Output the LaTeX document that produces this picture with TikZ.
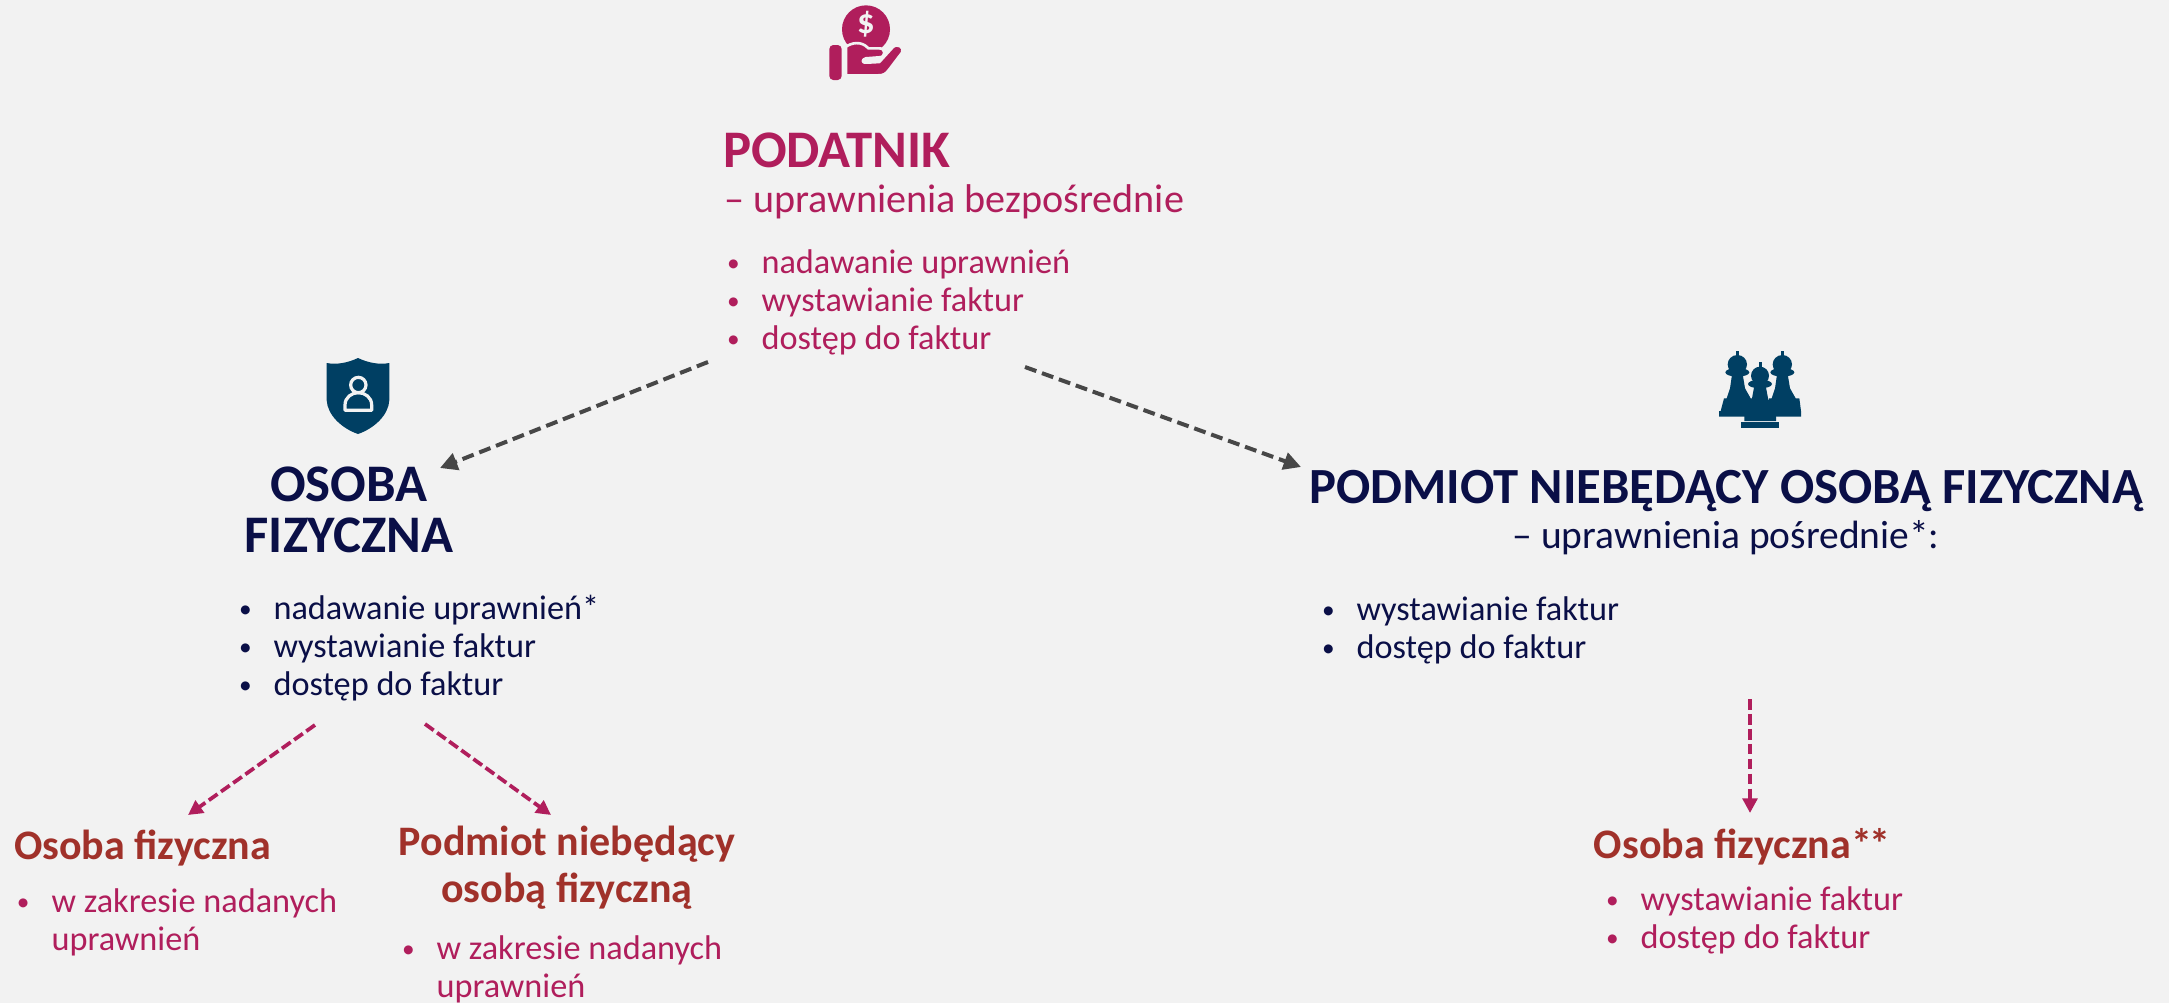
\documentclass[tikz,border=0pt]{standalone}
\usepackage{fontspec}
\setmainfont{Carlito}
\usetikzlibrary{arrows.meta}
\definecolor{bgc}{HTML}{F2F2F2}
\definecolor{mag}{HTML}{B01E5C}
\definecolor{navyt}{HTML}{0A0F47}
\definecolor{brick}{HTML}{A0312A}
\definecolor{teal}{HTML}{003F63}
\definecolor{arrgray}{HTML}{474747}
\newcommand{\bl}{\makebox[27.4pt][l]{\hspace{1.5pt}\raisebox{1pt}{\fontsize{19}{19}\selectfont •}}}
\newcommand{\nb}{\makebox[27.4pt][l]{}}
\tikzset{
  txt/.style={inner sep=0pt,outer sep=0pt,anchor=base west,align=left},
  body/.style={txt,font=\fontsize{25.7}{28.5}\selectfont},
  sub/.style={txt,font=\fontsize{30.1}{30}\selectfont},
  subn/.style={txt,font=\fontsize{29.6}{30}\selectfont},
  head/.style={txt,font=\fontsize{39.6}{38}\selectfont\bfseries},
  headwide/.style={txt,font=\fontsize{38}{38}\selectfont\bfseries},
  minor/.style={txt,font=\fontsize{31.5}{35}\selectfont\bfseries,text=brick},
  grayarrow/.style={draw=arrgray,line width=3pt,dash pattern=on 9pt off 4.5pt,-{Triangle[length=13pt,width=13pt]}},
  magarrow/.style={draw=mag,line width=2.8pt,dash pattern=on 8pt off 3.2pt,-{Triangle[length=11pt,width=11pt]}},
}
\begin{document}
\begin{tikzpicture}[x=.75pt,y=-.75pt]
\fill[bgc] (0,0) rectangle (2169,1003);
\useasboundingbox (0,0) rectangle (2169,1003);

% --- hand icon
\begin{scope}[shift={(780,0)},x=.25pt,y=-.25pt]
  \fill[mag] (258,88) circle (72);
  \node[text=bgc,font=\fontsize{26}{26}\selectfont\bfseries] (dollar) at (258,72) {\$};
  \fill[mag,draw=bgc,line width=2pt,line join=round]
    (198,140) .. controls (215,128) and (245,122) .. (265,145) -- (298,145)
    .. controls (318,145) and (318,172) .. (298,172) -- (258,175)
    .. controls (245,178) and (245,190) .. (260,188) -- (298,186) -- (338,142)
    .. controls (352,128) and (375,142) .. (366,158) -- (328,208)
    .. controls (318,222) and (310,226) .. (295,226) -- (198,226) -- cycle;
  \fill[mag,rounded corners=3pt] (148,135) rectangle (185,240);
\end{scope}

% --- shield icon
\begin{scope}[shift={(300,340)},x=.25pt,y=-.25pt]
  \fill[teal] (174,54) .. controls (145,68) and (110,75) .. (80,69)
    -- (80,180) .. controls (82,225) and (125,265) .. (174,282)
    .. controls (223,265) and (266,225) .. (268,180) -- (268,69)
    .. controls (238,75) and (203,68) .. (174,54) -- cycle;
  \draw[bgc,line width=2.4pt] (175,135) circle (23);
  \draw[bgc,line width=2.4pt,line join=round] (135,211) -- (135,195)
    .. controls (135,172) and (155,158) .. (175,158)
    .. controls (195,158) and (215,172) .. (215,195) -- (215,211) -- cycle;
\end{scope}

% --- chess icon
\begin{scope}[shift={(1700,335)},x=.25pt,y=-.25pt]
  \foreach \dx in {0,135}{
    \begin{scope}[shift={(\dx*.25pt,0)}]
    \fill[teal] (108,47) rectangle (117,65);
    \fill[teal] (112,88) ellipse (29 and 28);
    \fill[teal] (112,112) ellipse (36 and 13);
    \fill[teal] (96,118) -- (128,118) -- (135,160) -- (152,190) -- (163,190) -- (168,228)
      -- (168,245) -- (57,245) -- (57,228) -- (62,228) -- (72,190) -- (80,190) -- (90,160) -- cycle;
    \end{scope}
  }
  \fill[teal] (176,82) rectangle (185,98);
  \fill[teal] (180,122) ellipse (27 and 27);
  \fill[teal] (180,147) ellipse (36 and 13);
  \fill[teal] (163,152) -- (197,152) -- (205,195) -- (222,205) -- (228,245) -- (228,258)
    -- (133,258) -- (133,245) -- (138,205) -- (155,195) -- cycle;
  \fill[teal] (124,261) rectangle (236,278);
\end{scope}

% --- texts
\node[head,text=mag] (podatnik) at (723,167) {PODATNIK};
\node[sub,text=mag] (podsub) at (724,212) {– uprawnienia bezpośrednie};
\node[body,text=mag] (podlist) at (725,349) {\bl nadawanie uprawnień\\\bl wystawianie faktur\\\bl dostęp do faktur};

\node[head,text=navyt,align=center,anchor=base] (osoba) at (349,552) {OSOBA\\FIZYCZNA};
\node[body,text=navyt] (osolist) at (237,695) {\bl nadawanie uprawnień*\\\bl wystawianie faktur\\\bl dostęp do faktur};

\node[headwide,text=navyt,anchor=base] (podmiot) at (1726,503) {PODMIOT NIEBĘDĄCY OSOBĄ FIZYCZNĄ};
\node[subn,text=navyt,anchor=base] (podmsub) at (1726,548) {– uprawnienia pośrednie*:};
\node[body,text=navyt] (podmlist) at (1320,658) {\bl wystawianie faktur\\\bl dostęp do faktur};

\node[minor] (of1) at (14,859) {Osoba fizyczna};
\node[body,text=mag] (of1list) at (15,950) {\bl w zakresie nadanych\\\nb uprawnień};

\node[minor,align=center,anchor=base] (pn) at (567,902) {Podmiot niebędący\\osobą fizyczną};
\node[body,text=mag] (pnlist) at (400,997) {\bl w zakresie nadanych\\\nb uprawnień};

\node[minor,anchor=base] (of2) at (1742,858) {Osoba fizyczna*\kern-2pt*};
\node[body,text=mag] (of2list) at (1604,948) {\bl wystawianie faktur\\\bl dostęp do faktur};

% --- arrows
\coordinate (a1s) at (708,362);
\coordinate (a1e) at (440,468);
\coordinate (a2s) at (1025,367);
\coordinate (a2e) at (1301,467);
\coordinate (a3s) at (315,725);
\coordinate (a3e) at (188,815);
\coordinate (a4s) at (425,724);
\coordinate (a4e) at (551,815);
\coordinate (a5s) at (1750,699);
\coordinate (a5e) at (1750,813);
\draw[grayarrow] (a1s) -- (a1e);
\draw[grayarrow] (a2s) -- (a2e);
\draw[magarrow] (a3s) -- (a3e);
\draw[magarrow] (a4s) -- (a4e);
\draw[magarrow] (a5s) -- (a5e);
\end{tikzpicture}
\end{document}
